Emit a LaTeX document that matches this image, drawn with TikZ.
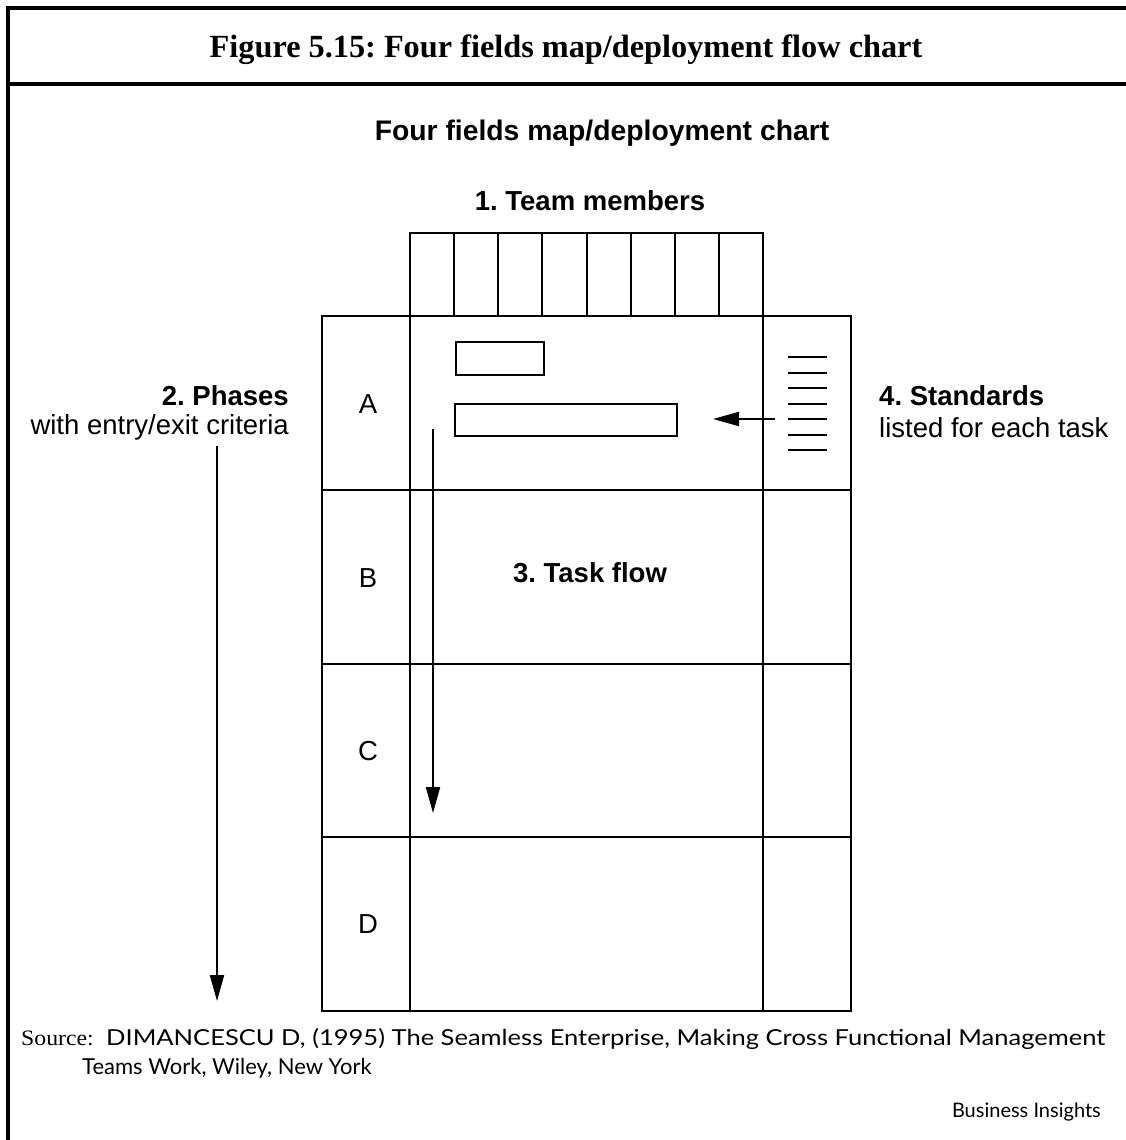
\documentclass[tikz,border=0pt]{standalone}
\usepackage{fontspec}
\setmainfont{Liberation Serif}
\newfontfamily\arialf{Liberation Sans}
\newfontfamily\srcf{Lato}
\usetikzlibrary{arrows.meta}
\begin{document}
\frenchspacing
\begin{tikzpicture}[x=1pt,y=-1pt,
  frameline/.style={line width=4pt,line cap=rect},
  gridline/.style={line width=2pt},
  arr/.style={line width=2pt,-{Triangle[length=26pt,width=14pt]}},
  lbl/.style={font=\arialf\fontsize{27.5}{33}\selectfont,anchor=base,inner sep=0pt},
  blbl/.style={font=\arialf\bfseries\fontsize{27.5}{33}\selectfont,anchor=base,inner sep=0pt},
  taskbox/.style={draw,line width=2pt,inner sep=0pt,anchor=north west},
  stdline/.style={line width=2pt},
  srctext/.style={anchor=base west,inner sep=0pt,font=\srcf\fontsize{22}{26}\selectfont}]
\useasboundingbox (0,0) rectangle (1125,1140);
% frame
\draw[frameline] (8,1145) -- (8,8) -- (1130,8);
\draw[frameline] (8,83.5) -- (1130,83.5);
% title
\node[font=\bfseries\fontsize{32.3}{38}\selectfont,anchor=base,inner sep=0pt] (title) at (566,58) {Figure 5.15: Four fields map/deployment flow chart};
\node[blbl,font=\arialf\bfseries\fontsize{28.3}{33}\selectfont] (subtitle) at (602,140) {Four fields map/deployment chart};
\node[blbl] (team) at (590,210) {1. Team members};
% team member columns
\foreach \i in {0,...,7}
  \draw[gridline] ({410+\i*44.125},233) rectangle ++(44.125,83);
% main grid
\draw[gridline] (322,316) rectangle (851,1011);
\draw[gridline] (410,316) -- (410,1011);
\draw[gridline] (763,316) -- (763,1011);
\foreach \y in {490,663.5,837}
  \draw[gridline] (322,\y) -- (851,\y);
% phase letters
\node[lbl] (pA) at (368,413) {A};
\node[lbl] (pB) at (368,587) {B};
\node[lbl] (pC) at (368,760) {C};
\node[lbl] (pD) at (368,933) {D};
% task boxes
\node[taskbox,minimum width=88pt,minimum height=33pt] (box1) at (455,341) {};
\node[taskbox,minimum width=222pt,minimum height=32pt] (box2) at (454,403) {};
% standards list
\foreach \y in {357,373,388,403.5,419,435,450}
  \draw[stdline] (788,\y) -- (827,\y);
\coordinate (stdfrom) at (775,419);
\coordinate (stdto) at (713,419);
\draw[arr] (stdfrom) -- (stdto);
% task flow arrow
\coordinate (flowfrom) at (433,429);
\coordinate (flowto) at (433,813);
\draw[arr] (flowfrom) -- (flowto);
\node[blbl] (taskflow) at (590,582) {3. Task flow};
% phases
\node[blbl,anchor=base east] (phases) at (289,405) {2. Phases};
\node[lbl,anchor=base east] (phasesub) at (289,434) {with entry/exit criteria};
\coordinate (phfrom) at (217,446);
\coordinate (phto) at (217,1001);
\draw[arr] (phfrom) -- (phto);
% standards text
\node[blbl,anchor=base west] (stds) at (879,405) {4. Standards};
\node[lbl,anchor=base west] (stdsub) at (879,437) {listed for each task};
% source
\node[anchor=base west,inner sep=0pt,font=\fontsize{22}{26}\selectfont] (srclab) at (21,1045) {\scalebox{1.08}[1]{Source:}};
\node[srctext] (src1) at (106,1045) {\resizebox{999pt}{\height}{DIMANCESCU D, (1995) The Seamless Enterprise, Making Cross Functional Management}};
\node[srctext] (src2) at (82,1074) {Teams Work, Wiley, New York};
\node[srctext,anchor=base east,font=\srcf\fontsize{20}{24}\selectfont] (bi) at (1101,1117) {Business Insights};
\end{tikzpicture}
\end{document}
